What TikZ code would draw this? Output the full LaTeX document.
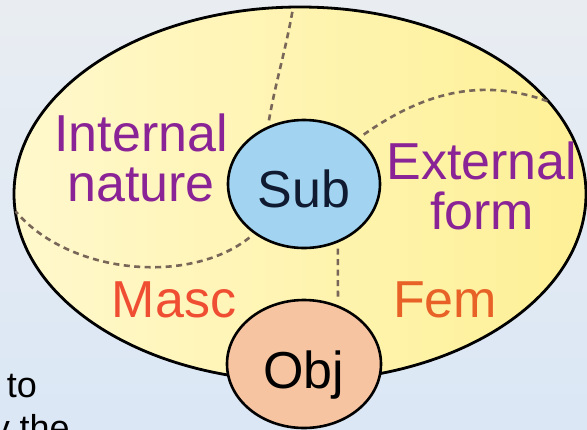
\documentclass[tikz,border=0pt]{standalone}
\usepackage{fontspec}
\setmainfont{Liberation Sans}
\usepackage{xcolor}
\usetikzlibrary{shapes.geometric,positioning}
\definecolor{bgtop}{RGB}{233,237,242}
\definecolor{bgbot}{RGB}{219,231,245}
\definecolor{palecream}{RGB}{255,248,204}
\definecolor{deepcream}{RGB}{254,240,150}
\definecolor{subblue}{RGB}{162,212,242}
\definecolor{objpeach}{RGB}{246,196,160}
\definecolor{splitcol}{RGB}{120,102,88}
\definecolor{purpletxt}{RGB}{138,36,150}
\definecolor{masctxt}{RGB}{240,78,50}
\definecolor{femtxt}{RGB}{232,98,40}
\definecolor{navytxt}{RGB}{16,26,48}
\newcommand{\ovalfont}{\fontsize{52}{50}\selectfont}
\tikzset{
  zone/.style    ={ellipse,draw,line width=2.8pt,minimum width=572pt,minimum height=374pt,inner sep=0pt,left color=palecream,right color=deepcream},
  subjoval/.style={ellipse,draw,line width=2.6pt,minimum width=152pt,minimum height=128pt,inner sep=0pt,fill=subblue,text=navytxt,font=\ovalfont,text height=46pt,text depth=0pt},
  objoval/.style ={ellipse,draw,line width=2.6pt,minimum width=154pt,minimum height=128pt,inner sep=0pt,fill=objpeach,font=\ovalfont,text height=48pt,text depth=0pt},
  aspect/.style  ={font=\ovalfont,align=center,inner sep=0pt},
  splitline/.style={splitcol,line width=2.6pt,dash pattern=on 6pt off 4.5pt,shorten <=6pt,shorten >=3pt},
}
\begin{document}
\begin{tikzpicture}[x=1pt,y=-1pt]
  \useasboundingbox (0,0) rectangle (587,429);
  \clip (0,0) rectangle (587,429);
  \shade[top color=bgtop,bottom color=bgbot] (0,0) rectangle (587,429);

  \node[zone] (whole) at (300,194) {};
  \node[subjoval] (sub) at (304,184) {Sub};
  \node[objoval] (obj) at (304,364) {Obj};

  % dotted borders between the four parts
  \draw[splitline] (sub.122) to[out=80,in=260] (whole.92);
  \draw[splitline] (sub.40) to[out=35,in=160] (whole.20);
  \draw[splitline] (sub.225) .. controls (190,285) and (70,275) .. (whole.183);
  \draw[splitline,shorten >=6pt] (sub.300) -- (obj.60);

  \node[aspect,purpletxt] (inner) at (141,158) {Internal\\nature};
  \node[aspect,purpletxt] (outer) at (482,186) {External\\form};
  \node[aspect,masctxt,anchor=base] (masc) at (174,317) {Masc};
  \node[aspect,femtxt,anchor=base] (fem) at (445,317) {Fem};

  \node[font=\fontsize{36}{43}\selectfont,anchor=base east,inner sep=0pt] (tail1) at (37,397) {to};
  \node[font=\fontsize{36}{43}\selectfont,anchor=base east,inner sep=0pt] (tail2) at (70,440) {y the};
\end{tikzpicture}
\end{document}
